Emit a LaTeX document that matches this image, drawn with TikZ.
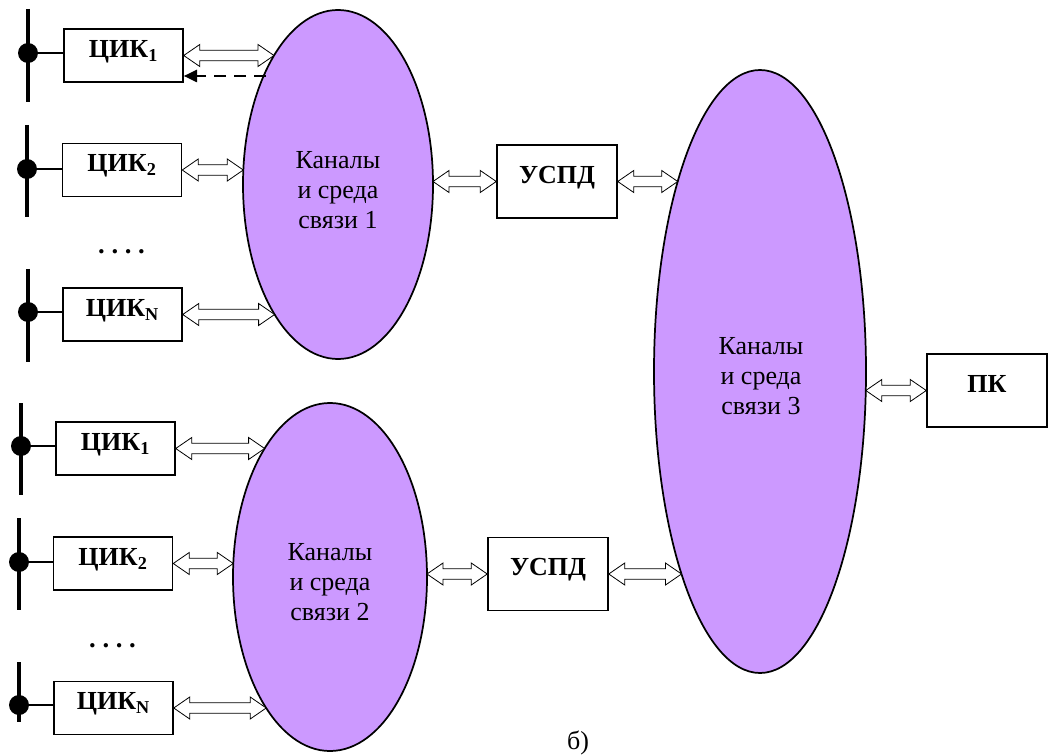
\documentclass[tikz,border=0pt]{standalone}
\usepackage{fontspec}
\setmainfont{Liberation Serif}
\usetikzlibrary{calc,arrows.meta,shapes.geometric}
\definecolor{lilac}{RGB}{204,153,255}
\begin{document}
\begin{tikzpicture}[x=0.75pt,y=-0.75pt,
  boxlbl/.style={draw, line width=1.1pt, inner sep=0pt, fill=white,
    font=\fontsize{19.5}{21}\selectfont\bfseries, text height=0.7em, text depth=0.45em},
  cik/.style={boxlbl, minimum width=89.25pt, minimum height=39.75pt},
  bigbox/.style={boxlbl, minimum width=90pt, minimum height=54.75pt},
  oval/.style={ellipse, draw, line width=1.3pt, fill=lilac, inner sep=0pt},
  ovaltext/.style={align=center, font=\fontsize{19.5}{22.5}\selectfont},
  bus/.style={line width=3pt},
  stub/.style={line width=2.2pt},
  busdot/.style={circle, fill=black, inner sep=0pt, minimum size=15pt},
  dblarrow/.style={draw, fill=white, line width=0.6pt, line join=miter,
    to path={let \p1=(\tikztostart), \p2=(\tikztotarget) in
      (\x1,\y1) -- (\x1+12pt,\y1+8.25pt) -- (\x1+12pt,\y1+4pt) -- (\x2-12pt,\y1+4pt)
      -- (\x2-12pt,\y1+8.25pt) -- (\x2,\y1) -- (\x2-12pt,\y1-8.25pt) -- (\x2-12pt,\y1-4pt)
      -- (\x1+12pt,\y1-4pt) -- (\x1+12pt,\y1-8.25pt) -- cycle}},
  dasharrow/.style={line width=2pt, dash pattern=on 9pt off 6pt,
    -{Triangle[length=10pt,width=9pt]}},
  dotsrow/.style={anchor=base, font=\fontsize{20}{22}\selectfont\bfseries}
]
\useasboundingbox (0,0) rectangle (1048,755);

% ellipses
\node[oval, minimum width=142.5pt, minimum height=261.75pt] (e1) at (338,184.5) {};
\node[oval, minimum width=145.5pt, minimum height=261pt] (e2) at (330,577) {};
\node[oval, minimum width=159pt, minimum height=452.25pt] (e3) at (760,371.5) {};
\node[ovaltext] (t1) at (338,190) {Каналы\\и среда\\связи 1};
\node[ovaltext] (t2) at (330,582) {Каналы\\и среда\\связи 2};
\node[ovaltext] (t3) at (761,376) {Каналы\\и среда\\связи 3};

% boxes
\node[cik] (c1a) at (123.5,55.5) {ЦИК\textsubscript{1}};
\node[cik] (c2a) at (122,170) {ЦИК\textsubscript{2}};
\node[cik] (cNa) at (122.5,314.5) {ЦИК\textsubscript{N}};
\node[cik] (c1b) at (115.5,448.5) {ЦИК\textsubscript{1}};
\node[cik] (c2b) at (113,563.5) {ЦИК\textsubscript{2}};
\node[cik] (cNb) at (113.5,708) {ЦИК\textsubscript{N}};
\node[bigbox] (u1) at (557,181.5) {УСПД};
\node[bigbox] (u2) at (548,574) {УСПД};
\node[bigbox] (pk) at (987,390.5) {ПК};

% dots between boxes
\node[dotsrow] (g1) at (121.5,254) {.\hspace{5pt}.\hspace{5pt}.\hspace{5pt}.};
\node[dotsrow] (g2) at (112.5,647) {.\hspace{5pt}.\hspace{5pt}.\hspace{5pt}.};

% buses with dots
\node[busdot] (d1a) at (28,53) {};
\node[busdot] (d2a) at (27,169) {};
\node[busdot] (dNa) at (28,312) {};
\node[busdot] (d1b) at (21,446) {};
\node[busdot] (d2b) at (19,562) {};
\node[busdot] (dNb) at (19,705) {};
\draw[bus] (d1a.center) ++(0,-44) -- ++(0,93);
\draw[bus] (d2a.center) ++(0,-44) -- ++(0,92);
\draw[bus] (dNa.center) ++(0,-43) -- ++(0,93);
\draw[bus] (d1b.center) ++(0,-43) -- ++(0,92);
\draw[bus] (d2b.center) ++(0,-44) -- ++(0,92);
\draw[bus] (dNb.center) ++(0,-43) -- ++(0,60);
\draw[stub] (d1a.center) -- (d1a.center -| c1a.west);
\draw[stub] (d2a.center) -- (d2a.center -| c2a.west);
\draw[stub] (dNa.center) -- (dNa.center -| cNa.west);
\draw[stub] (d1b.center) -- (d1b.center -| c1b.west);
\draw[stub] (d2b.center) -- (d2b.center -| c2b.west);
\draw[stub] (dNb.center) -- (dNb.center -| cNb.west);

% points on the ellipse borders
\coordinate (p1a) at (274,55.5);
\coordinate (p2a) at (243.3,170);
\coordinate (pNa) at (274.6,314.5);
\coordinate (q1) at (266,76);
\coordinate (e1r) at (433,181.5);
\coordinate (p1b) at (264.6,448.5);
\coordinate (p2b) at (233.3,563.5);
\coordinate (pNb) at (266.2,708);
\coordinate (e2r) at (427,574);
\coordinate (e3a) at (677.7,181.5);
\coordinate (e3b) at (681.5,574);
\coordinate (e3r) at (865.8,390.5);

% double arrows
\draw[dblarrow] (c1a.east) to (p1a);
\draw[dblarrow] (c2a.east) to (p2a);
\draw[dblarrow] (cNa.east) to (pNa);
\draw[dblarrow] (c1b.east) to (p1b);
\draw[dblarrow] (c2b.east) to (p2b);
\draw[dblarrow] (cNb.east) to (pNb);
\draw[dblarrow] (e1r) to (u1.west);
\draw[dblarrow] (u1.east) to (e3a);
\draw[dblarrow] (e2r) to (u2.west);
\draw[dblarrow] (u2.east) to (e3b);
\draw[dblarrow] (e3r) to (pk.west);

% dashed feedback arrow
\draw[dasharrow] (q1) -- (q1 -| c1a.east);

% caption
\node[anchor=base, font=\fontsize{19.5}{21}\selectfont] (cap) at (578,749) {б)};
\end{tikzpicture}
\end{document}
